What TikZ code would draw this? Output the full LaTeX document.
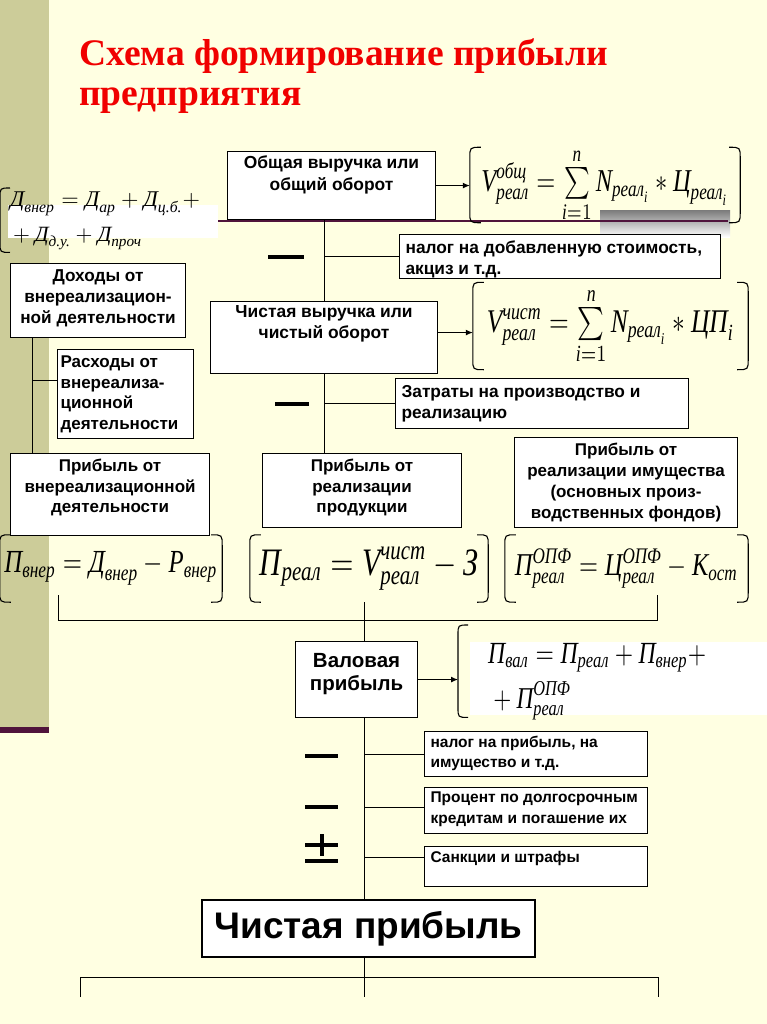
\documentclass[tikz,border=0pt]{standalone}
\usepackage{amsmath}
\usepackage{graphicx}
\usepackage{fontspec}
\setmainfont{Liberation Serif}
\newfontfamily\arial{Liberation Sans}
\usetikzlibrary{arrows.meta,calc}
\definecolor{bg}{RGB}{255,255,226}
\definecolor{strip}{RGB}{204,204,153}
\definecolor{plum}{RGB}{80,20,60}
\definecolor{ttl}{RGB}{240,0,0}
\definecolor{shade}{RGB}{190,190,190}
\newcommand\ci[1]{\text{\itshape #1}}
\newcommand\fit[3]{\scalebox{1}[#2]{\resizebox{#1}{!}{#3}}}
\newcommand\bt[7]{\parbox[c][#2][t]{#1}{#3\arial\bfseries\fontsize{#4}{#5}\selectfont\rule{0pt}{#6}#7}}
\newcommand\lpar[2][11pt]{\draw[paren] ([xshift=#1]#2.north west) .. controls (#2.north west) .. ([yshift=-#1]#2.north west) -- ([yshift=#1]#2.south west) .. controls (#2.south west) .. ([xshift=#1]#2.south west);}
\newcommand\rpar[2][11pt]{\draw[paren] ([xshift=-#1]#2.north east) .. controls (#2.north east) .. ([yshift=-#1]#2.north east) -- ([yshift=#1]#2.south east) .. controls (#2.south east) .. ([xshift=-#1]#2.south east);}
\begin{document}
\begin{tikzpicture}[x=1pt,y=-1pt,
  box/.style={draw=black, fill=white, line width=1.1pt, inner sep=0pt, anchor=north west},
  con/.style={line width=1pt},
  arr/.style={line width=1.1pt, -{Latex[length=7pt,width=6pt]}},
  paren/.style={line width=1.1pt},
  fml/.style={inner sep=0pt},
  bar/.style={line width=4pt}]
\fill[bg] (0,0) rectangle (767,1024);
\useasboundingbox (0,0) rectangle (767,1024);
\fill[strip] (0,0) rectangle (49,727);
\fill[plum] (0,727) rectangle (49,733);

% title
\node[anchor=base west, inner sep=0pt, text=ttl, font=\fontsize{37.5}{44}\selectfont\bfseries] (t1) at (79,66) {Схема формирование прибыли};
\node[anchor=base west, inner sep=0pt, text=ttl, font=\fontsize{37.5}{44}\selectfont\bfseries] (t2) at (79,106) {предприятия};

% decorations under first row
\fill[white] (8,205) rectangle (218,238);
\fill[shade] (600,211) rectangle (730,237);
\draw[plum, line width=2pt] (218,221.5) -- (728,221.5);

% boxes
\node[box] (b1) at (227,151) {\bt{208pt}{68pt}{\centering}{17.4}{22pt}{17pt}{Общая выручка или\\общий оборот}};
\node[box] (nds) at (399,234) {\bt{321pt}{44pt}{\raggedright\leftskip=6pt}{17.3}{21pt}{19pt}{налог на добавленную стоимость,\\акциз и т.д.}};
\node[box] (b2) at (210,301) {\bt{227pt}{72pt}{\centering}{17.4}{21pt}{16pt}{Чистая выручка или\\чистый оборот}};
\node[box] (zt) at (395,378) {\bt{293pt}{50pt}{\raggedright\leftskip=6pt}{17.3}{21pt}{19pt}{Затраты на производство и\\реализацию}};
\node[box] (doh) at (10,263) {\bt{175pt}{74pt}{\centering}{17.2}{21pt}{18pt}{Доходы от\\внереализацион-\\ной деятельности}};
\node[box] (rs) at (57,349) {\bt{136pt}{89pt}{\raggedright\leftskip=3pt}{17}{20.5pt}{18pt}{Расходы от\\внереализа-\\ционной\\деятельности}};
\node[box] (pvn) at (10,453) {\bt{199pt}{82pt}{\centering}{17}{20.5pt}{18pt}{Прибыль от\\внереализационной\\деятельности}};
\node[box] (pr) at (262,453) {\bt{199pt}{74pt}{\centering}{17}{20.5pt}{18pt}{Прибыль от\\реализации\\продукции}};
\node[box] (pim) at (514,437) {\bt{223pt}{90pt}{\centering}{17}{21pt}{18pt}{Прибыль от\\реализации имущества\\(основных произ-\\водственных фондов)}};
\node[box] (val) at (295,641) {\bt{122pt}{76pt}{\centering}{20.5}{23pt}{26pt}{Валовая\\прибыль}};
\node[box] (np) at (424,731) {\bt{223pt}{45pt}{\raggedright\leftskip=6pt}{15.5}{20pt}{16pt}{налог на прибыль, на\\имущество и т.д.}};
\node[box] (pc) at (424,787) {\bt{223pt}{46pt}{\raggedright\leftskip=6pt}{15.5}{21pt}{15pt}{Процент по долгосрочным\\кредитам и погашение их}};
\node[box] (sk) at (424,846) {\bt{223pt}{40pt}{\raggedright\leftskip=6pt}{15.5}{21pt}{16pt}{Санкции и штрафы}};
\node[box, anchor=center, minimum width=333pt, minimum height=57pt] (cp) at (368.5,928.5) {\arial\bfseries\fontsize{37}{44}\selectfont Чистая прибыль};

% formulas
\node[fml, minimum width=270pt, minimum height=74pt] (f1) at (605,185) {\fit{247pt}{1.3}{$\ci{V}^{\ci{общ}}_{\ci{реал}} = \sum\limits_{\ci{i}=1}^{\ci{n}} \ci{N}_{\ci{реал}_{\ci{i}}} * \ci{Ц}_{\ci{реал}_{\ci{i}}}$}};
\lpar{f1}\rpar{f1}
\node[fml, minimum width=275pt, minimum height=87pt] (f2) at (610.5,326) {\fit{247pt}{1.3}{$\ci{V}^{\ci{чист}}_{\ci{реал}} = \sum\limits_{\ci{i}=1}^{\ci{n}} \ci{N}_{\ci{реал}_{\ci{i}}} * \ci{ЦП}_{\ci{i}}$}};
\lpar{f2}\rpar{f2}
\node[fml, minimum width=210pt, minimum height=64pt, anchor=north west] (fdv) at (0,188) {};
\lpar[10pt]{fdv}
\node[fml, anchor=base west] (fdv1) at (10,207) {\resizebox{190pt}{!}{$\ci{Д}_{\ci{внер}} = \ci{Д}_{\ci{ар}} + \ci{Д}_{\ci{ц.б.}} +$}};
\node[fml, anchor=base west] (fdv2) at (8,241) {\resizebox{134pt}{!}{${}+\ci{Д}_{\ci{д.у.}} + \ci{Д}_{\ci{проч}}$}};
\node[fml, minimum width=222pt, minimum height=67pt] (f3) at (111,568.5) {\fit{213pt}{1.3}{$\ci{П}_{\ci{внер}} = \ci{Д}_{\ci{внер}} - \ci{Р}_{\ci{внер}}$}};
\lpar{f3}\rpar{f3}
\node[fml, minimum width=238pt, minimum height=67pt] (f4) at (369,568.5) {\fit{218pt}{1.3}{$\ci{П}_{\ci{реал}} = \ci{V}^{\ci{чист}}_{\ci{реал}} - \ci{З}$}};
\lpar{f4}\rpar{f4}
\node[fml, minimum width=243pt, minimum height=67pt] (f5) at (626.5,568.5) {\fit{223pt}{1.3}{$\ci{П}^{\ci{ОПФ}}_{\ci{реал}} = \ci{Ц}^{\ci{ОПФ}}_{\ci{реал}} - \ci{К}_{\ci{ост}}$}};
\lpar{f5}\rpar{f5}
\fill[white] (470,642) rectangle (767,715);
\node[fml, minimum width=309pt, minimum height=92pt, anchor=north west] (fv) at (458,625) {};
\lpar[10pt]{fv}
\node[fml, anchor=base west] (fv1) at (488,663) {\fit{218pt}{1.3}{$\ci{П}_{\ci{вал}} = \ci{П}_{\ci{реал}} + \ci{П}_{\ci{внер}} +$}};
\node[fml, anchor=base west] (fv2) at (488,708) {\fit{83pt}{1.3}{${}+\ci{П}^{\ci{ОПФ}}_{\ci{реал}}$}};

% connectors
\coordinate (tk) at (364,0);
\draw[con] (b1.south -| b2.north) -- (b2.north);
\draw[con] (b2.north |- nds.west) -- (nds.west);
\draw[arr] (b1.east) -- (b1.east -| f1.west);
\draw[arr] ([yshift=5pt]b2.east) -- ([yshift=5pt]b2.east -| f2.west);
\draw[con] (b2.south) -- (b2.south |- pr.north);
\draw[con] (b2.south |- zt.west) -- (zt.west);
\coordinate (dl) at ([xshift=22pt]doh.south west);
\draw[con] (dl) -- (dl |- pvn.north);
\draw[con] ([yshift=14pt]rs.west -| dl) -- ([yshift=14pt]rs.west);
\coordinate (bl) at (58,595);
\coordinate (br) at (657,595);
\draw[con] (bl) -- (58,620) -- (657,620) -- (br);
\draw[con] (f4.south -| tk) -- (val.north -| tk);
\draw[arr] (val.east) -- (val.east -| fv.west);
\draw[con] (val.south -| tk) -- (cp.north -| tk);
\draw[con] (tk |- np.west) -- (np.west);
\draw[con] ([yshift=3pt]pc.west -| tk) -- ([yshift=3pt]pc.west);
\draw[con] ([yshift=9pt]sk.west -| tk) -- ([yshift=9pt]sk.west);
\coordinate (cl) at (80,997);
\coordinate (cr) at (658,997);
\draw[con] (cp.south -| tk) -- (tk |- cl);
\draw[con] (cl) -- (80,977) -- (658,977) -- (cr);

% signs
\draw[bar] (268,257) -- (304,257);
\draw[bar] (275,404) -- (309,404);
\draw[bar] (305,756) -- (338,756);
\draw[bar] (305,807) -- (338,807);
\draw[bar] (305,845) -- (338,845);
\draw[bar] (321.5,834) -- (321.5,856);
\draw[bar] (305,861) -- (338,861);
\end{tikzpicture}
\end{document}
